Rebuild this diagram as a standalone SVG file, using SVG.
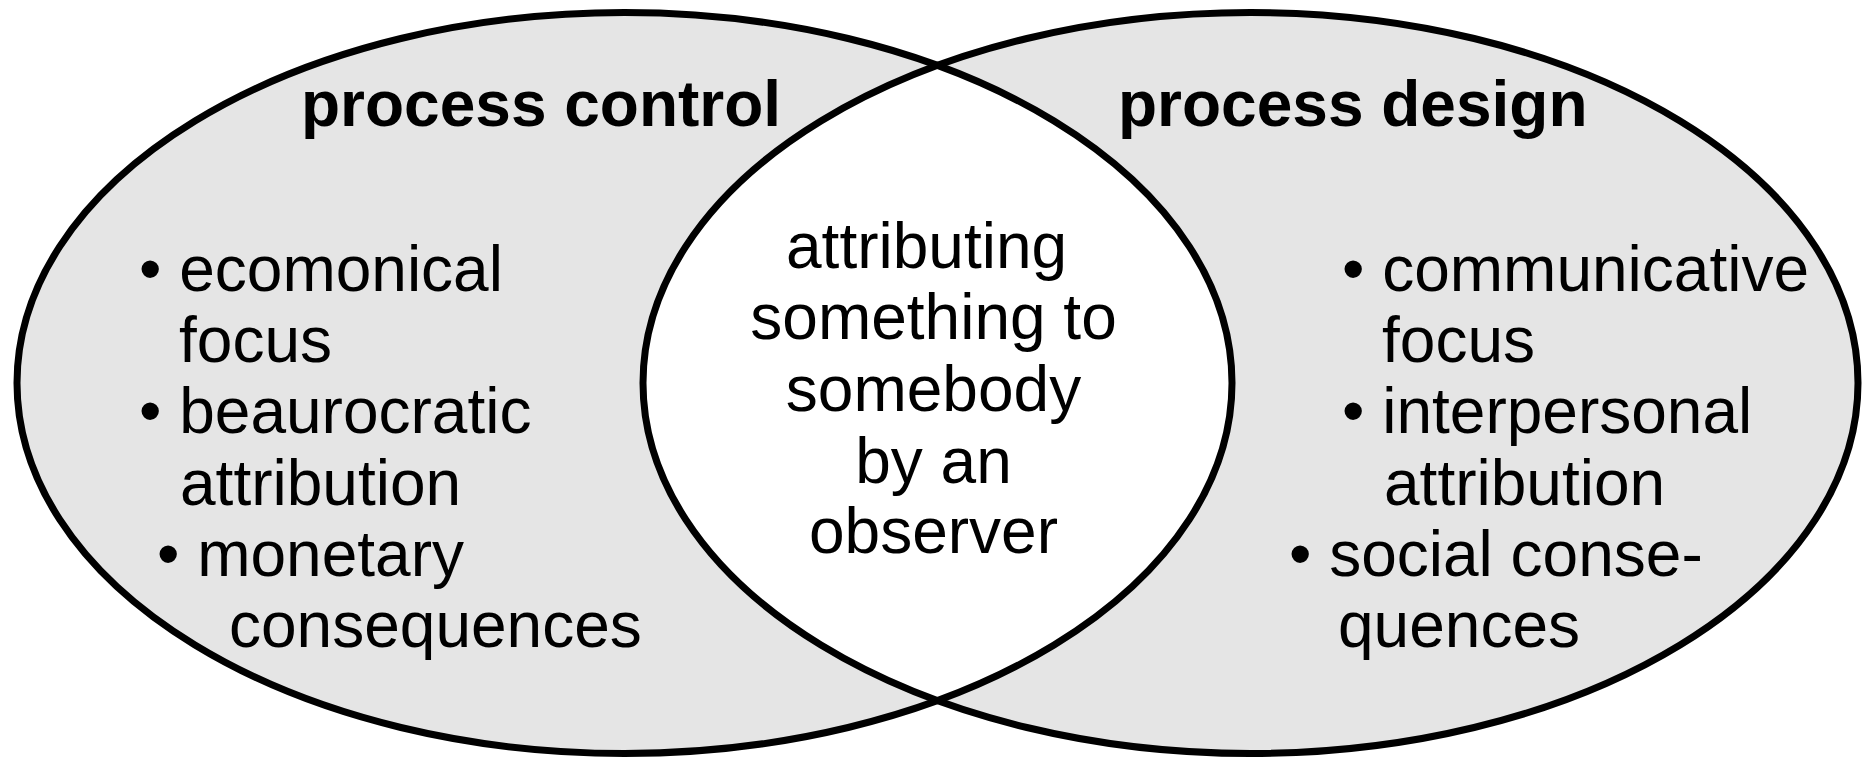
<svg xmlns="http://www.w3.org/2000/svg" width="1867" height="761" viewBox="0 0 1867 761">
  <style>
    .fill { fill: #e5e5e5; stroke: none; }
    .outline { fill: none; stroke: #000; stroke-width: 7; }
    .t { font-family: "Liberation Sans", Arial, sans-serif; font-size: 64px; fill: #000; }
    .title { font-weight: bold; }
    .c { text-anchor: middle; }
  </style>
  <defs>
    <clipPath id="clipRight">
      <ellipse cx="1250.5" cy="383" rx="607.5" ry="370.5"/>
    </clipPath>
  </defs>
  <rect width="1867" height="761" fill="#fff"/>
  <g id="shapes">
    <ellipse class="fill" cx="624.5" cy="383" rx="607.5" ry="370.5"/>
    <ellipse class="fill" cx="1250.5" cy="383" rx="607.5" ry="370.5"/>
    <ellipse cx="624.5" cy="383" rx="607.5" ry="370.5" fill="#fff" clip-path="url(#clipRight)"/>
    <ellipse class="outline" cx="624.5" cy="383" rx="607.5" ry="370.5"/>
    <ellipse class="outline" cx="1250.5" cy="383" rx="607.5" ry="370.5"/>
  </g>
  <g id="process-control">
    <text class="t title" x="301" y="126">process control</text>
    <text class="t" x="139" y="291">• ecomonical</text>
    <text class="t" x="179" y="362">focus</text>
    <text class="t" x="139" y="433">• beaurocratic</text>
    <text class="t" x="180" y="505">attribution</text>
    <text class="t" x="157" y="576">• monetary</text>
    <text class="t" x="229" y="647">consequences</text>
  </g>
  <g id="intersection">
    <text class="t" x="786" y="268">attributing</text>
    <text class="t c" x="933.5" y="339">something to</text>
    <text class="t c" x="933.5" y="411">somebody</text>
    <text class="t c" x="933.5" y="483">by an</text>
    <text class="t c" x="933.5" y="553">observer</text>
  </g>
  <g id="process-design">
    <text class="t title" x="1118" y="126">process design</text>
    <text class="t" x="1342" y="291">• communicative</text>
    <text class="t" x="1382" y="362">focus</text>
    <text class="t" x="1342" y="433">• interpersonal</text>
    <text class="t" x="1384" y="505">attribution</text>
    <text class="t" x="1289" y="576">• social conse-</text>
    <text class="t" x="1338" y="647">quences</text>
  </g>
</svg>
